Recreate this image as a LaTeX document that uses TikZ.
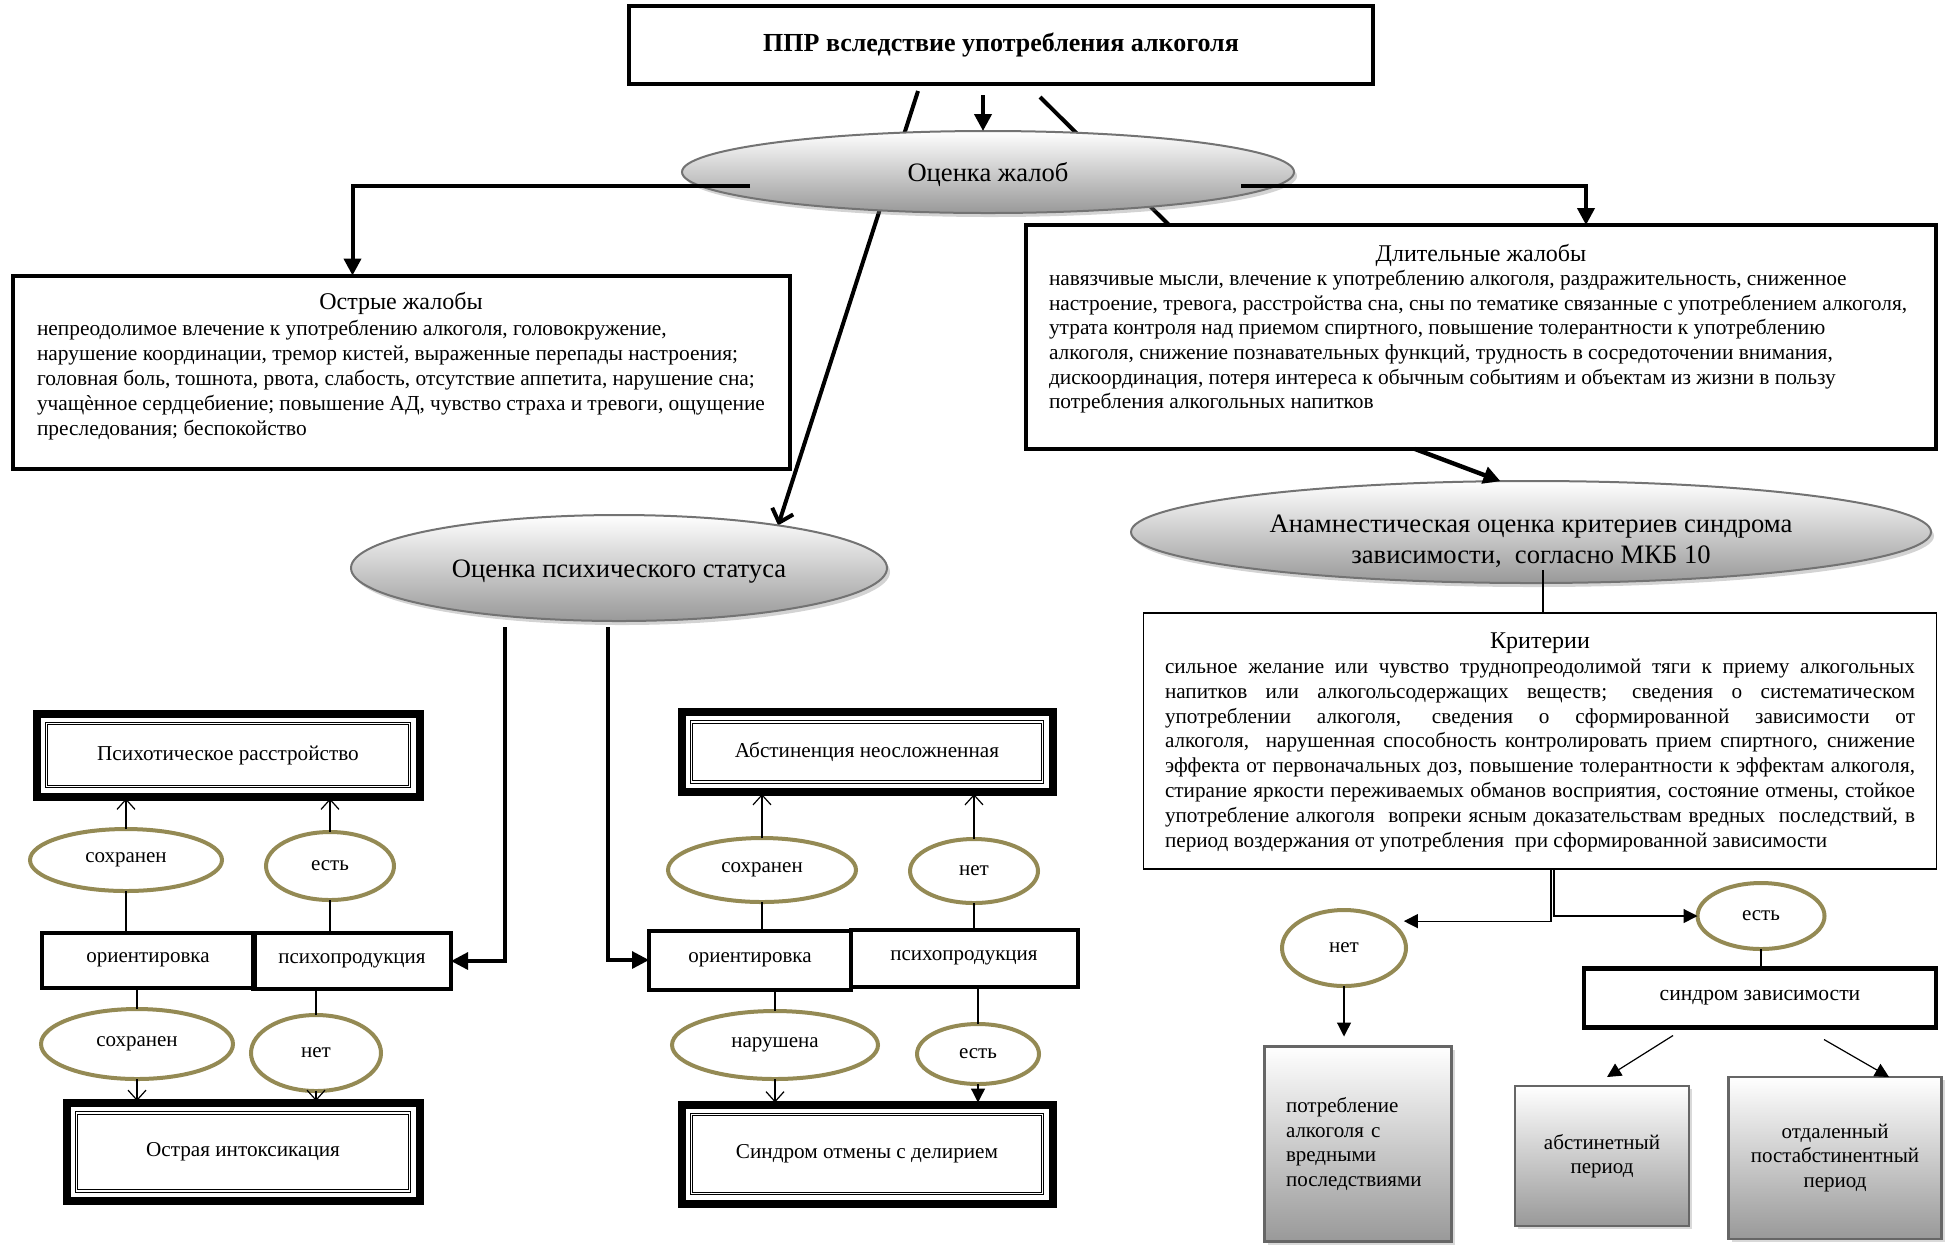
\documentclass[tikz,border=0pt]{standalone}
\usepackage{fontspec}
\setmainfont{Liberation Serif}
\usetikzlibrary{arrows.meta,shapes.geometric,shadows,calc,backgrounds}
\definecolor{ovalrim}{HTML}{948A54}

\begin{document}
\begin{tikzpicture}[x=0.5pt,y=-0.5pt,>={Triangle[length=7pt,width=7pt]},semithick]
  \tikzstyle{bigbox}=[draw,line width=2pt,rectangle,inner sep=0pt,outer sep=0pt]
  \tikzstyle{framebox}=[draw,line width=4pt,rectangle,inner sep=0pt,outer sep=0pt,font=\fontsize{10.6}{12.5}\selectfont]
  \tikzstyle{cell}=[draw,line width=2pt,rectangle,inner sep=0pt,outer sep=0pt,font=\fontsize{10.5}{12.5}\selectfont]
  \tikzstyle{oval}=[ellipse,draw=ovalrim,line width=2pt,fill=white,inner sep=0pt,outer sep=0pt,font=\fontsize{10.5}{12.5}\selectfont]
  \tikzstyle{shadedoval}=[ellipse,draw=black!55,line width=1pt,top color=white,bottom color=black!40,
                          drop shadow={shadow xshift=1.5pt,shadow yshift=-2pt,opacity=0.35},
                          inner sep=0pt,outer sep=0pt,font=\fontsize{13.3}{15.5}\selectfont]
  \tikzstyle{greybox}=[rectangle,draw=black!60,line width=1.2pt,top color=white,bottom color=black!40,
                       drop shadow={shadow xshift=1.5pt,shadow yshift=-1.5pt,opacity=0.3},
                       inner sep=0pt,outer sep=0pt,align=center,font=\fontsize{10.5}{12.2}\selectfont]
  \tikzstyle{thin link}=[line width=0.6pt]
  \tikzstyle{fat tip}=[-{Triangle[length=8.5pt,width=8.5pt]}]
  \tikzstyle{barb}=[-{Straight Barb[length=5pt,width=9pt]},shorten >=1pt]

  \useasboundingbox (0,0) rectangle (1946,1244);

  % top part
  \node[bigbox,line width=2.2pt,minimum width=372pt,minimum height=39pt,font=\bfseries\fontsize{13}{15}\selectfont] (ppr) at (1001,45) {ППР вследствие употребления алкоголя};
  \node[shadedoval,minimum width=306pt,minimum height=41pt] (zhal) at (988,172) {\rule{0pt}{12pt}Оценка жалоб};

  \node[bigbox,minimum width=388.5pt,minimum height=96.5pt] (ostr) at (401,372)
    {\parbox[c][80pt][t]{364pt}{{\centering\fontsize{12}{14}\selectfont Острые жалобы\par}\vspace{1pt}
     \fontsize{10.7}{12.4}\selectfont
     непреодолимое влечение к употреблению алкоголя, головокружение,\\
     нарушение координации, тремор кистей, выраженные перепады настроения;\\
     головная боль, тошнота, рвота, слабость, отсутствие аппетита, нарушение сна;\\
     учащѐнное сердцебиение; повышение АД, чувство страха и тревоги, ощущение\\
     преследования; беспокойство}};

  \node[bigbox,minimum width=455pt,minimum height=112pt] (dlit) at (1481,337)
    {\parbox[c][93pt][t]{432pt}{{\centering\fontsize{12}{14}\selectfont Длительные жалобы\par}
     \fontsize{10.7}{12.3}\selectfont
     навязчивые мысли, влечение к употреблению алкоголя, раздражительность, сниженное\\
     настроение, тревога, расстройства сна, сны по тематике связанные с употреблением алкоголя,\\
     утрата контроля над приемом спиртного, повышение толерантности к употреблению\\
     алкоголя, снижение познавательных функций, трудность в сосредоточении внимания,\\
     дискоординация, потеря интереса к обычным событиям и объектам из жизни в пользу\\
     потребления алкогольных напитков}};

  \node[shadedoval,minimum width=268pt,minimum height=53pt] (psy) at (619,568) {\rule{0pt}{12pt}Оценка психического статуса};
  \node[shadedoval,minimum width=400pt,minimum height=51pt,align=center] (anam) at (1531,532)
    {\rule{0pt}{18pt}Анамнестическая оценка критериев синдрома\\зависимости,\ \ согласно МКБ 10};

  \node[bigbox,line width=0.8pt,minimum width=396.5pt,minimum height=128pt] (krit) at (1540,741)
    {\parbox[c][108pt][t]{375pt}{{\centering\fontsize{12}{14}\selectfont Критерии\par}
     \fontsize{10.6}{12.4}\selectfont
     сильное желание или чувство труднопреодолимой тяги к приему алкогольных\linebreak
     напитков или алкогольсодержащих веществ; сведения о систематическом\linebreak
     употреблении алкоголя, сведения о сформированной зависимости от\linebreak
     алкоголя,\ \ нарушенная способность контролировать прием спиртного, снижение\linebreak
     эффекта от первоначальных доз, повышение толерантности к эффектам алкоголя,\linebreak
     стирание яркости переживаемых обманов восприятия, состояние отмены, стойкое\linebreak
     употребление алкоголя\ \ вопреки ясным доказательствам вредных\ \ последствий, в\linebreak
     период воздержания от употребления\ \ при сформированной зависимости\par}};

  % left group
  \node[framebox,minimum width=191.5pt,minimum height=41.5pt] (psixot) at (228,755) {Психотическое расстройство};
  \node[oval,minimum width=96pt,minimum height=31pt] (sox1) at (126,860) {сохранен};
  \node[oval,minimum width=64pt,minimum height=34pt] (est1) at (330,866) {есть};
  \node[cell,minimum width=106.5pt,minimum height=27.5pt] (ori1) at (148,960) {ориентировка};
  \node[cell,minimum width=99pt,minimum height=28pt] (pp1) at (352,961) {психопродукция};
  \node[oval,minimum width=96pt,minimum height=35pt] (sox2) at (137,1044) {сохранен};
  \node[oval,minimum width=65pt,minimum height=38pt] (net1) at (316,1053) {нет};
  \node[framebox,minimum width=176.5pt,minimum height=49pt] (ostrint) at (243,1152) {Острая интоксикация};

  % middle group
  \node[framebox,minimum width=185.5pt,minimum height=40pt] (abst) at (867,752) {Абстиненция неосложненная};
  \node[oval,minimum width=94pt,minimum height=32pt] (sox3) at (762,870) {сохранен};
  \node[oval,minimum width=64pt,minimum height=32pt] (net2) at (974,871) {нет};
  \node[cell,minimum width=101pt,minimum height=29.5pt] (ori2) at (750,960) {ориентировка};
  \node[cell,minimum width=113.5pt,minimum height=28.5pt] (pp2) at (964,958) {психопродукция};
  \node[oval,minimum width=103pt,minimum height=34pt] (nar) at (775,1045) {нарушена};
  \node[oval,minimum width=61pt,minimum height=30pt] (est2) at (978,1054) {есть};
  \node[framebox,minimum width=185.5pt,minimum height=49.5pt] (sindr) at (867,1154) {Синдром отмены с делирием};

  % right group
  \node[oval,minimum width=62pt,minimum height=38pt] (net3) at (1344,948) {нет};
  \node[oval,minimum width=63.5pt,minimum height=33pt] (est3) at (1761,916) {есть};
  \node[bigbox,line width=2.2pt,minimum width=176pt,minimum height=29.5pt,font=\fontsize{10.8}{12.5}\selectfont] (szav) at (1760,998) {синдром зависимости};
  \node[greybox,minimum width=93.5pt,minimum height=97.5pt,text width=72pt,align=left] (potr) at (1358,1144) {потребление\\алкоголя с\\вредными\\последствиями};
  \node[greybox,minimum width=87pt,minimum height=70pt] (abstp) at (1602,1156) {абстинетный\\период};
  \node[greybox,minimum width=106.5pt,minimum height=81pt] (otdal) at (1835,1158) {отдаленный\\постабстинентный\\период};

  % inner double frames
  \foreach \n in {psixot,ostrint,abst,sindr}
    \draw[line width=0.5pt,double,double distance=0.8pt] ([shift={(5pt,-5pt)}]\n.north west) rectangle ([shift={(-5pt,5pt)}]\n.south east);

  % connectors
  \begin{pgfonlayer}{background}
    \draw[line width=2pt,-{Straight Barb[length=6pt,width=11pt]}] ($(ppr.south)+(-83,7)$) -- (psy.15);
    \draw[line width=2pt] ($(ppr.south)+(39,13)$) -- ($(dlit.north west)+(143,0)$);
  \end{pgfonlayer}
  \draw[line width=2pt,fat tip] ($(ppr.south)+(-18,11)$) -- ($(zhal.north)+(-5,0)$);
  \draw[line width=2pt,fat tip] ($(zhal.center)+(-238,14)$) -| ($(ostr.north west)+(340,0)$);
  \draw[line width=2pt,fat tip] ($(zhal.center)+(253,14)$) -| ($(dlit.north west)+(560,0)$);
  \draw[line width=2.2pt,fat tip] ($(dlit.south west)+(389,0)$) -- (anam.121);
  \draw[thin link] ($(anam.south)+(12,-13)$) -- ($(krit.north)+(3,0)$);

  \draw[line width=1.6pt,fat tip] ($(psy.south)+(-114,6)$) |- (pp1.east);
  \draw[line width=1.6pt,fat tip] ($(psy.south)+(-11,6)$) |- (ori2.west);

  \path[thin link] (sox1.south) edge (sox1.south |- ori1.north)
        (sox1.north) edge[barb] (sox1.north |- psixot.south)
        (est1.south) edge (est1.south |- pp1.north)
        (est1.north) edge[barb] (est1.north |- psixot.south)
        (sox2.north) edge (sox2.north |- ori1.south)
        (sox2.south) edge[barb] (sox2.south |- ostrint.north)
        (net1.north) edge (net1.north |- pp1.south)
        (net1.south) edge[barb] (net1.south |- ostrint.north)

        (sox3.south) edge (sox3.south |- ori2.north)
        (sox3.north) edge[barb] (sox3.north |- abst.south)
        (net2.south) edge (net2.south |- pp2.north)
        (net2.north) edge[barb] (net2.north |- abst.south)
        (nar.north) edge (nar.north |- ori2.south)
        (nar.south) edge[barb] (nar.south |- sindr.north)
        (est2.north) edge (est2.north |- pp2.south)
        (est2.south) edge[->,shorten >=1pt] (est2.south |- sindr.north);

  \draw[thin link,->] ($(krit.south)+(11,0)$) |- ([xshift=8pt]net3.north east);
  \draw[thin link,->] ($(krit.south)+(14,0)$) |- (est3.west);
  \draw[thin link,->,shorten >=5pt] (net3.south) -- (net3.south |- potr.north);
  \draw[thin link] (est3.south) -- (est3.south |- szav.north);
  \draw[thin link,->] ($(szav.south)+(-87,8)$) -- ($(abstp.north)+(5,-9)$);
  \draw[thin link,->] ($(szav.south)+(64,12)$) -- ($(otdal.north)+(54,0)$);
\end{tikzpicture}
\end{document}
